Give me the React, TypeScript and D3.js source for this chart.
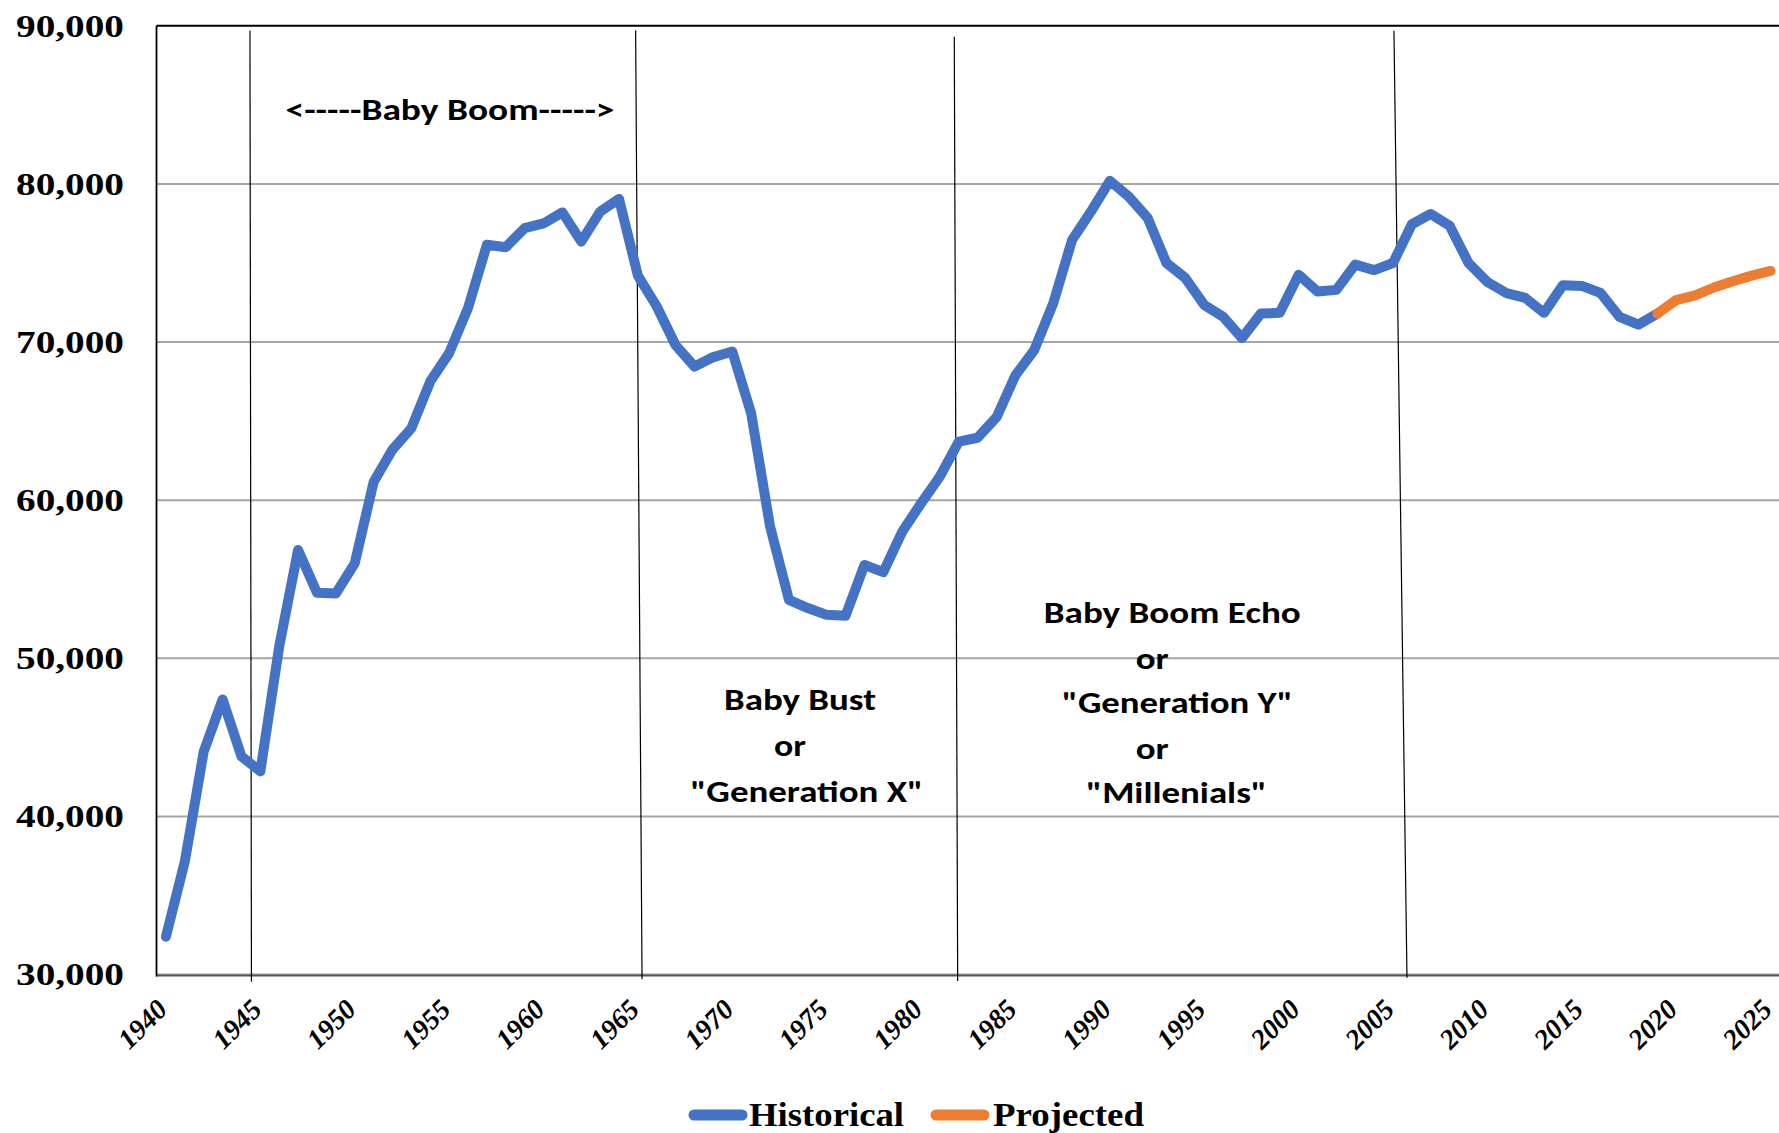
import * as d3 from "d3";

// births per year, 1940-2019 (historical) and 2019-2025 (projected)
const histYears = d3.range(1940, 2020);
const histValues = [
  32400, 37150, 44100, 47400, 43800, 42850, 50750, 56850, 54150, 54100,
  56000, 61150, 63200, 64550, 67500, 69300, 72150, 76150, 76000, 77200,
  77500, 78200, 76350, 78250, 79050, 74200, 72250, 69800, 68450, 69050,
  69400, 65500, 58350, 53700, 53180, 52750, 52700, 55900, 55450, 58000,
  59800, 61500, 63700, 63950, 65250, 67900, 69500, 72450, 76450, 78250,
  80200, 79200, 77850, 75000, 74050, 72350, 71600, 70250, 71800, 71850,
  74250, 73200, 73300, 74900, 74550, 75000, 77450, 78100, 77350, 75000,
  73800, 73100, 72800, 71850, 73600, 73550, 73100, 71600, 71100, 71800,
];
const projYears = [2019, 2020, 2021, 2022, 2023, 2024, 2025];
const projValues = [71800, 72650, 72950, 73450, 73850, 74200, 74500];

const allYears = d3.range(1940, 2026);
const xTickYears = d3.range(1940, 2026, 5);
const yTicks = [30000, 40000, 50000, 60000, 70000, 80000, 90000];

// hand-drawn generation dividers: [year at top, year at bottom, value top, value bottom]
const dividers = [
  [1944.45, 1944.53, 89700, 29550],
  [1964.88, 1965.22, 89700, 29700],
  [1981.76, 1981.94, 89300, 29600],
  [2005.05, 2005.74, 89680, 29800],
];

const width = 1779;
const height = 1133;
const left = 156.5;
const right = 1780;
const top = 25.8;
const bottom = 974.6;

const blue = "#4472C4";
const orange = "#ED7D31";
const sans = "Carlito, Lato, sans-serif";
const serif = "'Liberation Serif', 'Times New Roman', serif";

export default function App() {
  const band = d3.scaleBand().domain(allYears.map(String)).range([left, right]);
  const cx = (yr) => band(String(yr)) + band.bandwidth() / 2;
  const xYear = d3.scaleLinear().domain([1940, 2025]).range([cx(1940), cx(2025)]);
  const y = d3.scaleLinear().domain([30000, 90000]).range([bottom, top]);

  const line = d3.line().x((d) => cx(d[0])).y((d) => y(d[1]));
  const histPath = line(histYears.map((yr, i) => [yr, histValues[i]]));
  const projPath = line(projYears.map((yr, i) => [yr, projValues[i]]));

  const fmt = d3.format(",");

  return (
    <svg
      width={width}
      height={height}
      style={{ position: "absolute", left: 0, top: 0, background: "#fff" }}
    >
      {/* gridlines */}
      {yTicks.slice(0, -1).map((t) => (
        <line key={t} x1={left} x2={width} y1={y(t)} y2={y(t)} stroke="#a6a6a6" strokeWidth={2} />
      ))}
      {/* axes / frame */}
      <line x1={left} x2={width} y1={y(90000)} y2={y(90000)} stroke="#000" strokeWidth={2} />
      <line x1={left} x2={width} y1={y(30000) + 1} y2={y(30000) + 1} stroke="#555" strokeWidth={2} />
      <line x1={left} x2={left} y1={y(90000)} y2={y(30000) + 2} stroke="#000" strokeWidth={1.8} />

      {/* dividers */}
      {dividers.map((d, i) => (
        <line key={i} x1={xYear(d[0])} x2={xYear(d[1])} y1={y(d[2])} y2={y(d[3])} stroke="#000" strokeWidth={1.2} />
      ))}

      {/* series */}
      <path d={histPath} fill="none" stroke={blue} strokeWidth={10} strokeLinejoin="round" strokeLinecap="round" />
      <path d={projPath} fill="none" stroke={orange} strokeWidth={10} strokeLinejoin="round" strokeLinecap="round" />

      {/* y tick labels */}
      {yTicks.map((t) => (
        <text
          key={t}
          x={124}
          y={y(t)}
          dy="0.34em"
          textAnchor="end"
          fontFamily={serif}
          fontWeight="bold"
          fontSize={32}
          textLength={108}
          lengthAdjust="spacingAndGlyphs"
        >
          {fmt(t)}
        </text>
      ))}

      {/* x tick labels */}
      {xTickYears.map((yr) => (
        <text
          key={yr}
          transform={`translate(${cx(yr) + 3},${1011}) rotate(-45)`}
          textAnchor="end"
          fontFamily={serif}
          fontWeight="bold"
          fontStyle="italic"
          fontSize={28}
        >
          {yr}
        </text>
      ))}

      {/* annotations */}
      <g fontFamily={sans} fontWeight="bold" fill="#000">
        <text x={450} y={119.5} textAnchor="middle" fontSize={31} textLength={329} lengthAdjust="spacingAndGlyphs">
          {"<-----Baby Boom----->"}
        </text>
        <text x={800} y={710} textAnchor="middle" fontSize={30} textLength={152} lengthAdjust="spacingAndGlyphs">Baby Bust</text>
        <text x={790} y={756} textAnchor="middle" fontSize={30} textLength={32} lengthAdjust="spacingAndGlyphs">or</text>
        <text x={806.7} y={801.7} textAnchor="middle" fontSize={30} textLength={233} lengthAdjust="spacingAndGlyphs">"Generation X"</text>
        <text x={1172.3} y={622.7} textAnchor="middle" fontSize={30} textLength={257} lengthAdjust="spacingAndGlyphs">Baby Boom Echo</text>
        <text x={1152.2} y={669} textAnchor="middle" fontSize={30} textLength={33} lengthAdjust="spacingAndGlyphs">or</text>
        <text x={1177.3} y={713.3} textAnchor="middle" fontSize={30} textLength={231} lengthAdjust="spacingAndGlyphs">"Generation Y"</text>
        <text x={1152.2} y={759} textAnchor="middle" fontSize={30} textLength={33} lengthAdjust="spacingAndGlyphs">or</text>
        <text x={1176.5} y={803.3} textAnchor="middle" fontSize={30} textLength={181} lengthAdjust="spacingAndGlyphs">"Millenials"</text>
      </g>

      {/* legend */}
      <line x1={694} x2={742} y1={1115} y2={1115} stroke={blue} strokeWidth={11} strokeLinecap="round" />
      <text x={749} y={1126} fontFamily={serif} fontWeight="bold" fontSize={33} textLength={155} lengthAdjust="spacingAndGlyphs">
        Historical
      </text>
      <line x1={936} x2={984} y1={1115} y2={1115} stroke={orange} strokeWidth={11} strokeLinecap="round" />
      <text x={993} y={1126} fontFamily={serif} fontWeight="bold" fontSize={33} textLength={151} lengthAdjust="spacingAndGlyphs">
        Projected
      </text>
    </svg>
  );
}
